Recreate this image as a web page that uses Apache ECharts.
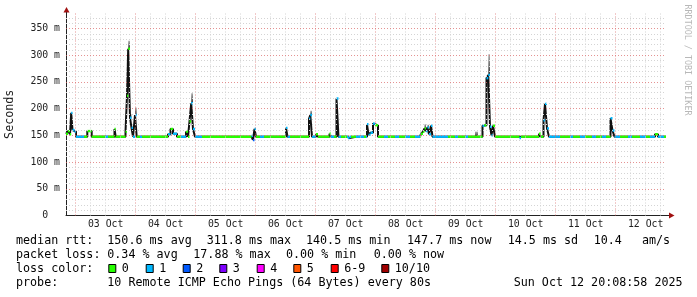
<!DOCTYPE html>
<html><head><meta charset="utf-8">
<script src="https://cdn.jsdelivr.net/npm/echarts@6/dist/echarts.min.js"></script>
<style>html,body{margin:0;padding:0;background:#fff}#c{width:697px;height:297px}</style>
</head><body><div id="c"></div>
<script>
// x unit: RRD step index (24 min per step); step 0 = window start Oct 2 20:08:58
const STEP_MIN = 24;
const WINDOW_START = Date.UTC(2025, 9, 2, 20, 8, 58);
const WINDOW_STEPS = 600;
const FIRST_MIDNIGHT = Date.UTC(2025, 9, 3, 0, 0, 0);
const dayLabels = ['03 Oct','04 Oct','05 Oct','06 Oct','07 Oct','08 Oct','09 Oct','10 Oct','11 Oct','12 Oct'];
const yTickValues = [0, 50, 100, 150, 200, 250, 300, 350];

// median rtt (ms) step points and packet loss (pings lost of 10)
const T = [0,2,4,5.2,6.5,8.5,10,18,21.3,25.7,39,42,48.5,49.7,59.5,61,62.2,64,65.5,67,69,70.7,74,76,
  102,104.5,107,111,115,120,122,123.5,125.2,127,129,136,185.5,187,188.5,190,194,198,220,221.5,224,
  243,244.3,246,250,252,263.5,265,268,270.5,272.5,275,281,282,283.5,285,290,298,300,301,302.5,304.5,
  307,309,312,318,322,329,333,339,344,349,354,355,357,358.5,360,361.5,363,365,366.5,382,389,392,399,
  402,409,412,416.5,418.5,420.5,422.3,424,425.5,427,429,453.5,455,473,475,477.5,479,481,483,494,504,
  507,514,519,526,530,536,540,544.5,546.5,548.5,554,562,566,574,580,584,589,592,598,600];
const RTT = [153,158,152,192,160,157,147.5,147.5,158,147.5,147.5,147.5,162,147.5,157,224,312,183,164,147.5,188,147.5,147.5,147.5,
  152,162,153,147.5,147.5,157,147.5,176,210,162,147.5,147.5,149,141,162,147.5,147.5,147.5,164,147.5,147.5,
  181,188,147.5,152,147.5,153,147.5,147.5,219,147.5,147.5,147.5,145,147.5,147.5,147.5,147.5,147.5,171,151,155,
  172,169,147.5,147.5,147.5,147.5,147.5,147.5,147.5,147.5,147.5,153,157,163,158,165,152,168,147.5,147.5,147.5,147.5,147.5,
  147.5,147.5,147.5,168,169,257,263,166,150,168,147.5,145,147.5,153,147.5,178,209,163,147.5,147.5,147.5,
  147.5,147.5,147.5,147.5,147.5,147.5,147.5,182,159,147.5,147.5,147.5,147.5,147.5,147.5,147.5,152,147.5,147.5,147.5];
const LOSS = [0,0,0,1,1,1,1,0,0,0,1,0,0,0,0,0,0,1,1,1,1,0,1,0,
  1,0,1,0,1,0,0,0,1,1,1,0,1,2,1,0,1,0,1,1,0,
  1,1,1,0,0,0,1,0,1,1,0,1,1,1,0,1,0,1,1,1,1,
  1,0,0,1,0,1,0,1,0,1,0,0,0,0,1,1,1,1,1,0,1,0,1,
  0,0,0,1,0,1,1,1,1,0,0,1,0,0,0,1,1,1,1,0,1,
  0,1,0,1,0,1,0,1,1,1,0,1,0,1,0,1,0,1,0,0];
// smoke (ping spread) tops where visible
const smokeAt = [62.2, 64, 69, 125.2, 244.3, 358.5, 361.5, 409, 422.3];
const smokeTop = [327, 190, 202, 229, 196, 171, 170, 157, 302];

const lossColors = ['#26ff00','#00b8ff','#0059ff','#7e00ff','#ff00ff','#ff5500','#ff0000','#a00000'];
const lossLabels = ['0','1','2','3','4','5','6-9','10/10'];
const statRows = [
  [[16,'median rtt:'],[107.3,'150.6 ms avg'],[206.7,'311.8 ms max'],[306,'140.5 ms min'],[407,'147.7 ms now'],[507.7,'14.5 ms sd'],[593.7,'10.4'],[642,'am/s']],
  [[16,'packet loss:'],[107.3,'0.34 % avg'],[193.3,'17.88 % max'],[286,'0.00 % min'],[373.7,'0.00 % now']],
  [[16,'loss color:']],
  [[16,'probe:'],[107.3,'10 Remote ICMP Echo Pings (64 Bytes) every 80s'],[513.7,'Sun Oct 12 20:08:58 2025']]
];
const rowY = [241.3, 255.3, 268.7, 283];
const boxX = [108.3,145.7,182.7,219.3,256.7,293.3,330.7,381.3];

const MONO = '"DejaVu Sans Mono", monospace';
const m0 = (FIRST_MIDNIGHT - WINDOW_START) / 60000 / STEP_MIN;
const stepsPerDay = 24 * 60 / STEP_MIN;

// grid lines
const gridLines = [];
for (let k = 0; m0 + k * stepsPerDay / 4 < WINDOW_STEPS; k++) {
  const major = k % 4 === 0;
  gridLines.push({ xAxis: m0 + k * stepsPerDay / 4, lineStyle: { color: major ? 'rgba(220,110,110,0.75)' : '#d4d4d4', type: [1, 2], width: 1 } });
}
for (let v = 10; v <= 370; v += 10) {
  const major = v % 50 === 0;
  gridLines.push({ yAxis: v, lineStyle: { color: major ? 'rgba(220,110,110,0.75)' : '#d4d4d4', type: [1, 2], width: 1 } });
}
const labelPos = dayLabels.map((d, k) => m0 + stepsPerDay / 2 + k * stepsPerDay);

function nextT(t) { const i = T.indexOf(t); return T[i + 1]; }
const smokeData = smokeAt.map((t, k) => [t, nextT(t), RTT[T.indexOf(t)], smokeTop[k]]);
const segData = T.slice(0, -1).map((t, i) => [t, T[i + 1], RTT[i], LOSS[i]]);

const graphics = [];
statRows.forEach((row, r) => row.forEach(([x, s]) => graphics.push({
  type: 'text', x: x, y: rowY[r], style: { text: s, font: '11.7px ' + MONO, fill: '#000', textVerticalAlign: 'middle' }
})));
lossLabels.forEach((lab, k) => {
  graphics.push({ type: 'rect', shape: { x: boxX[k] + 0.5, y: 264.5, width: 7, height: 8 }, style: { fill: lossColors[k], stroke: '#000', lineWidth: 1 } });
  graphics.push({ type: 'text', x: boxX[k] + 13.5, y: rowY[2], style: { text: lab, font: '11.7px ' + MONO, fill: '#000', textVerticalAlign: 'middle' } });
});
graphics.push({ type: 'text', x: 687, y: 60, rotation: -Math.PI / 2, style: { text: 'RRDTOOL / TOBI OETIKER', font: '8.4px ' + MONO, fill: '#b8b8b8', textAlign: 'center', textVerticalAlign: 'middle' } });
// axis arrows
graphics.push({ type: 'line', shape: { x1: 66.5, y1: 13, x2: 66.5, y2: 9 }, style: { stroke: '#222', lineWidth: 1 } });
graphics.push({ type: 'polygon', shape: { points: [[63.5, 12.5], [69.5, 12.5], [66.5, 7]] }, style: { fill: '#a01010' } });
graphics.push({ type: 'line', shape: { x1: 666, y1: 215.5, x2: 670, y2: 215.5 }, style: { stroke: '#222', lineWidth: 1 } });
graphics.push({ type: 'polygon', shape: { points: [[669, 212.5], [669, 218.5], [674.5, 215.5]] }, style: { fill: '#a01010' } });

const chart = echarts.init(document.getElementById('c'), null, { renderer: 'canvas' });
chart.setOption({
  animation: false,
  backgroundColor: '#fff',
  grid: { left: 66, right: 31, top: 13, bottom: 81.5, containLabel: false, outerBoundsMode: 'none' },
  xAxis: {
    type: 'value', min: 0, max: WINDOW_STEPS,
    axisLine: { show: true, lineStyle: { color: '#222', width: 1 } },
    axisTick: { show: false },
    splitLine: { show: false },
    axisLabel: {
      customValues: labelPos,
      formatter: (v) => dayLabels[Math.round((v - m0 - stepsPerDay / 2) / stepsPerDay)] || '',
      fontFamily: MONO, fontSize: 9.8, color: '#222', margin: 4
    }
  },
  yAxis: {
    type: 'value', min: 0, max: 379, interval: 50,
    name: 'Seconds', nameLocation: 'middle', nameGap: 50, nameRotate: 90,
    nameTextStyle: { fontFamily: MONO, fontSize: 11.7, color: '#222' },
    axisLine: { show: true, lineStyle: { color: '#222', width: 1 } },
    axisTick: { show: false },
    splitLine: { show: false },
    axisLabel: {
      formatter: (v) => yTickValues.indexOf(v) < 0 ? '' : (v === 0 ? '0  ' : v + ' m'),
      fontFamily: MONO, fontSize: 9.8, color: '#222', margin: 6
    }
  },
  graphic: graphics,
  series: [
    { type: 'line', data: [], z: 1, silent: true,
      markLine: { symbol: ['none', 'none'], silent: true, label: { show: false }, animation: false, data: gridLines } },
    { type: 'custom', z: 2, silent: true, data: smokeData, encode: { x: [0, 1], y: [2, 3] },
      renderItem: (params, api) => {
        const a = api.coord([api.value(0), api.value(3)]);
        const b = api.coord([api.value(1), api.value(2)]);
        return { type: 'rect', shape: { x: a[0], y: a[1], width: Math.max(b[0] - a[0], 1), height: b[1] - a[1] },
          style: { fill: new echarts.graphic.LinearGradient(0, 0, 0, 1, [{ offset: 0, color: '#b0b0b0' }, { offset: 0.5, color: '#707070' }, { offset: 1, color: '#303030' }]) } };
      } },
    { type: 'line', step: 'end', z: 3, silent: true, symbol: 'none', data: T.map((t, i) => [t, RTT[i]]),
      lineStyle: { color: '#111', width: 2 } },
    { type: 'custom', z: 4, silent: true, data: segData, encode: { x: [0, 1], y: 2 },
      renderItem: (params, api) => {
        const a = api.coord([api.value(0), api.value(2)]);
        const b = api.coord([api.value(1), api.value(2)]);
        return { type: 'rect', shape: { x: a[0], y: a[1] - 1.2, width: b[0] - a[0], height: 2.4 },
          style: { fill: lossColors[api.value(3)] } };
      } }
  ]
});
</script></body></html>
